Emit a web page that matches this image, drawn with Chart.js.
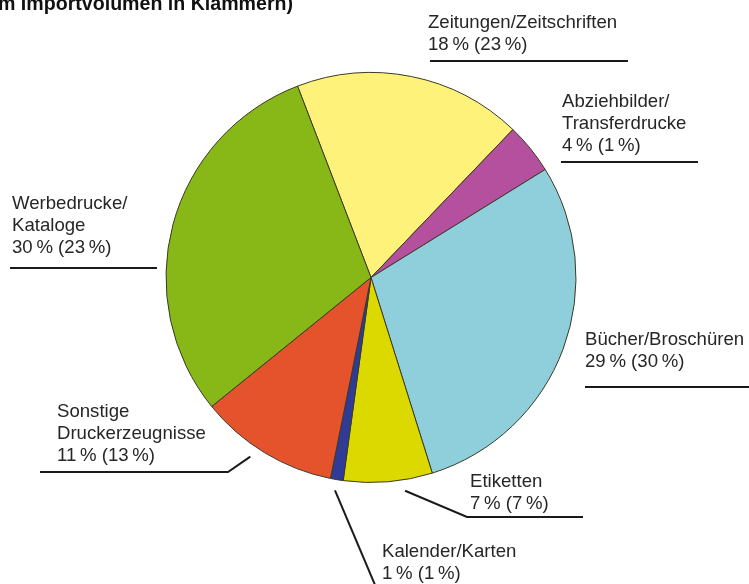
<!DOCTYPE html>
<html>
<head>
<meta charset="utf-8">
<script src="https://cdn.jsdelivr.net/npm/chart.js@4.4.1/dist/chart.umd.min.js"></script>
<style>
  html, body { margin: 0; padding: 0; background: #fff; }
  #wrap { width: 749px; height: 584px; position: relative; }
</style>
</head>
<body>
<div id="wrap"><canvas id="myChart"></canvas></div>
<script>
// Anteile am Export (Import in Klammern), in %
const categories = ['Zeitungen/Zeitschriften', 'Abziehbilder/Transferdrucke', 'Bücher/Broschüren', 'Etiketten', 'Kalender/Karten', 'Sonstige Druckerzeugnisse', 'Werbedrucke/Kataloge'];
const shares = [18, 4, 29, 7, 1, 11, 30];
const sharesImport = [23, 1, 30, 7, 1, 13, 23];
const labelLines = [['Zeitungen/Zeitschriften'], ['Abziehbilder/', 'Transferdrucke'], ['Bücher/Broschüren'], ['Etiketten'], ['Kalender/Karten'], ['Sonstige', 'Druckerzeugnisse'], ['Werbedrucke/', 'Kataloge']];
const colors = ['#fff27a', '#b5509e', '#8ecfdb', '#dcd900', '#2f3b97', '#e4532b', '#87b817'];

// where the label text and its rule sit (rule = [x1, x2, y])
const labelLayout = [
  { x: 428, y: 28, rule: [430, 628, 61] },
  { x: 562, y: 107, rule: [561, 698, 162] },
  { x: 585, y: 345, rule: [585, 749, 387] },
  { x: 470, y: 487, rule: [467, 583, 517], elbow: 'left', at: 0.33 },
  { x: 382, y: 557, tail: [378, 592], at: 0.5 },
  { x: 57, y: 417, rule: [40, 228, 472], elbow: 'right', at: 0.57 },
  { x: 12, y: 209, rule: [10, 157, 268] }
];

const labelsPlugin = {
  id: 'pieLabels',
  afterDraw(chart) {
    const ctx = chart.ctx;
    const arcs = chart.getDatasetMeta(0).data;
    ctx.save();

    // title, cut off at the top like in the original
    ctx.fillStyle = '#111';
    ctx.font = 'bold 19.6px "Liberation Sans", Arial, sans-serif';
    ctx.textBaseline = 'alphabetic';
    ctx.fillText('m Importvolumen in Klammern)', -2, 10);

    ctx.font = '18.6px "Liberation Sans", Arial, sans-serif';
    ctx.strokeStyle = '#1a1a1a';
    ctx.lineWidth = 2;
    labelLayout.forEach((l, i) => {
      const lines = labelLines[i].concat([shares[i] + '\u2009% (' + sharesImport[i] + '\u2009%)']);
      ctx.fillStyle = '#262626';
      lines.forEach((t, k) => ctx.fillText(t, l.x, l.y + k * 22));

      let anchor = null;
      if (l.at !== undefined) {
        const a = arcs[i];
        const ang = a.startAngle + (a.endAngle - a.startAngle) * l.at;
        const r = a.outerRadius + 11;
        anchor = [a.x + r * Math.cos(ang), a.y + r * Math.sin(ang)];
      }
      ctx.beginPath();
      if (l.rule) {
        const [x1, x2, y] = l.rule;
        if (anchor && l.elbow === 'left') {
          ctx.moveTo(anchor[0], anchor[1]);
          ctx.lineTo(x1, y);
          ctx.lineTo(x2, y);
        } else if (anchor && l.elbow === 'right') {
          ctx.moveTo(anchor[0], anchor[1]);
          ctx.lineTo(x2, y);
          ctx.lineTo(x1, y);
        } else {
          ctx.moveTo(x1, y);
          ctx.lineTo(x2, y);
        }
      } else if (l.tail && anchor) {
        ctx.moveTo(anchor[0], anchor[1]);
        ctx.lineTo(l.tail[0], l.tail[1]);
      }
      ctx.stroke();
    });
    ctx.restore();
  }
};

new Chart(document.getElementById('myChart'), {
  type: 'pie',
  data: {
    labels: categories,
    datasets: [{
      data: shares,
      backgroundColor: colors,
      borderColor: '#3a3a26',
      borderWidth: 1
    }]
  },
  options: {
    responsive: true,
    maintainAspectRatio: false,
    animation: false,
    rotation: -21,
    layout: { padding: { left: 0, right: 7, top: 72, bottom: 101 } },
    plugins: {
      legend: { display: false },
      tooltip: { enabled: false }
    }
  },
  plugins: [labelsPlugin]
});
</script>
</body>
</html>
